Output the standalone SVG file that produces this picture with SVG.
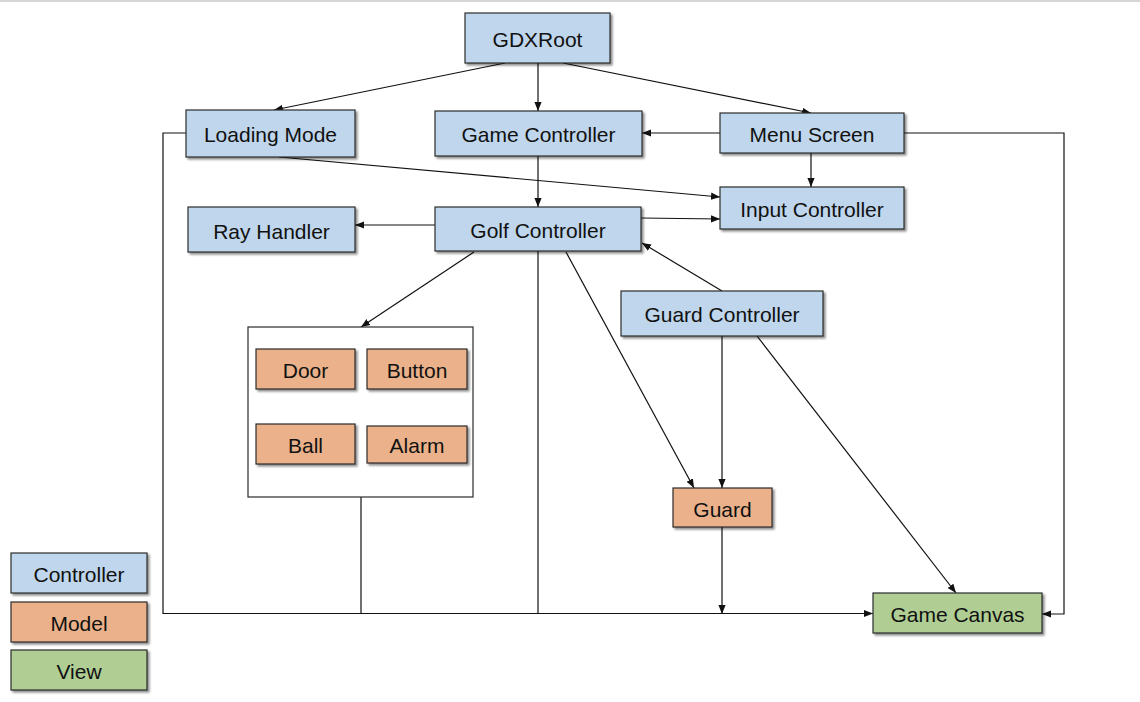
<svg xmlns="http://www.w3.org/2000/svg" width="1140" height="702" viewBox="0 0 1140 702">
<style>
.box{stroke:#2b2b2b;stroke-width:1.2;filter:url(#sh)}
.c{fill:#bfd6ec}.m{fill:#eab18a}.v{fill:#b0ce93}
.t{font-family:"Liberation Sans",Arial,sans-serif;font-size:21px;fill:#111;text-anchor:middle;dominant-baseline:central}
.ln{fill:none;stroke:#111;stroke-width:1.2}
.a{marker-end:url(#ah)}
</style>
<defs>
<filter id="sh" x="-10%" y="-20%" width="130%" height="150%">
<feDropShadow dx="2" dy="2" stdDeviation="1.2" flood-color="#000" flood-opacity="0.45"/>
</filter>
<marker id="ah" viewBox="0 0 10 10" refX="10" refY="5" markerWidth="9" markerHeight="9" markerUnits="userSpaceOnUse" orient="auto">
<path d="M0,1 L10,5 L0,9 z" fill="#111"/>
</marker>
</defs>
<rect x="0" y="0" width="1140" height="702" fill="#fff"/>
<rect x="0" y="0" width="1140" height="2" fill="#d6d6d6"/>

<g id="connectors">
<line class="ln a" x1="505" y1="63" x2="274" y2="110"/>
<line class="ln a" x1="538" y1="63" x2="538" y2="111"/>
<line class="ln a" x1="563" y1="63" x2="811" y2="113"/>
<line class="ln a" x1="720" y1="133" x2="642" y2="133"/>
<line class="ln a" x1="811" y1="153" x2="811" y2="187"/>
<line class="ln a" x1="279" y1="157" x2="720" y2="197"/>
<line class="ln a" x1="538" y1="156" x2="538" y2="207"/>
<line class="ln a" x1="435" y1="225" x2="355" y2="225"/>
<line class="ln a" x1="641" y1="218" x2="720" y2="219"/>
<line class="ln a" x1="722" y1="291" x2="642" y2="243"/>
<line class="ln a" x1="474" y1="252" x2="361" y2="327"/>
<line class="ln a" x1="566" y1="252" x2="694" y2="488"/>
<line class="ln a" x1="722" y1="336" x2="722" y2="488"/>
<line class="ln a" x1="757" y1="336" x2="956" y2="593"/>
<line class="ln a" x1="722" y1="527" x2="722" y2="614"/>
<polyline class="ln a" points="186,133 163,133 163,613.5 873,613.5"/>
<line class="ln" x1="361" y1="497" x2="361" y2="613.5"/>
<line class="ln" x1="538" y1="251" x2="538" y2="613.5"/>
<polyline class="ln a" points="904,133 1064,133 1064,614 1042,614"/>
</g>

<g id="n-gdxroot"><rect class="box c" x="465" y="13" width="145" height="50"/><text class="t" x="537.5" y="39">GDXRoot</text></g>
<g id="n-loading"><rect class="box c" x="186" y="110" width="169" height="47"/><text class="t" x="270.5" y="134.5">Loading Mode</text></g>
<g id="n-gamecontroller"><rect class="box c" x="435" y="111" width="207" height="45"/><text class="t" x="538.5" y="134.5">Game Controller</text></g>
<g id="n-menu"><rect class="box c" x="720" y="113" width="184" height="40"/><text class="t" x="812" y="134">Menu Screen</text></g>
<g id="n-input"><rect class="box c" x="720" y="187" width="184" height="42"/><text class="t" x="812" y="209">Input Controller</text></g>
<g id="n-ray"><rect class="box c" x="188" y="207" width="167" height="45"/><text class="t" x="271.5" y="231">Ray Handler</text></g>
<g id="n-golf"><rect class="box c" x="435" y="207" width="206" height="44"/><text class="t" x="538" y="230">Golf Controller</text></g>
<g id="n-guardcontroller"><rect class="box c" x="621" y="291" width="202" height="45"/><text class="t" x="722" y="314.5">Guard Controller</text></g>
<g id="n-models">
<rect x="248" y="327" width="225" height="170" fill="#fff" stroke="#2b2b2b" stroke-width="1.2"/>
<g id="n-door"><rect class="box m" x="256" y="349" width="99" height="40"/><text class="t" x="305.5" y="370">Door</text></g>
<g id="n-button"><rect class="box m" x="367" y="349" width="100" height="40"/><text class="t" x="417" y="370">Button</text></g>
<g id="n-ball"><rect class="box m" x="256" y="424" width="99" height="40"/><text class="t" x="305.5" y="445">Ball</text></g>
<g id="n-alarm"><rect class="box m" x="367" y="426" width="100" height="37"/><text class="t" x="417" y="445">Alarm</text></g>
</g>
<g id="n-guard"><rect class="box m" x="673" y="488" width="99" height="39"/><text class="t" x="722.5" y="509">Guard</text></g>
<g id="n-canvas"><rect class="box v" x="873" y="593" width="169" height="40"/><text class="t" x="957.5" y="614">Game Canvas</text></g>

<g id="legend">
<g id="l-controller"><rect class="box c" x="11" y="553" width="136" height="40"/><text class="t" x="79" y="574">Controller</text></g>
<g id="l-model"><rect class="box m" x="11" y="602" width="136" height="40"/><text class="t" x="79" y="623">Model</text></g>
<g id="l-view"><rect class="box v" x="11" y="650" width="136" height="40"/><text class="t" x="79" y="671">View</text></g>
</g>
</svg>
